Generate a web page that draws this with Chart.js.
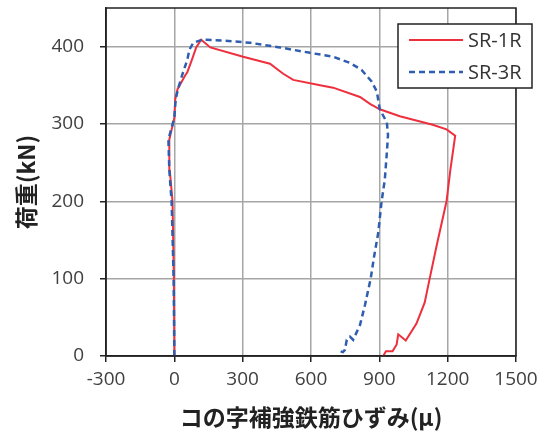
<!DOCTYPE html>
<html>
<head>
<meta charset="utf-8">
<script src="https://cdn.jsdelivr.net/npm/chart.js@4"></script>
<style>
  html, body { margin: 0; padding: 0; background: #fff; }
  #wrap { width: 547px; height: 433px; }
</style>
</head>
<body>
<div id="wrap"><canvas id="chart" width="547" height="433"></canvas></div>
<script>
// SR-1R : strain (μ) / load (kN)
const sr1Strain = [0, -2, -8, -20, -22, -10, 0, 4, 14, 48, 57, 77, 96, 118, 158, 302, 420, 478, 522, 640, 697, 815, 859, 902, 990, 1134, 1195, 1233, 1212, 1195, 1151, 1121, 1099, 1063, 1016, 983, 976, 958, 929, 917];
const sr1Load   = [0, 100, 200, 240, 280, 295, 308, 332, 345, 363, 367, 383, 399, 409, 399, 387, 378, 365, 357, 350, 347, 335, 326, 319, 310, 299, 293, 285, 241, 200, 142, 100, 69, 42, 20, 28, 15, 6, 6, 0];

// SR-3R
const sr3Strain = [0, -3, -12, -22, -26, -15, 0, 6, 16, 34, 57, 66, 83, 121, 215, 333, 464, 596, 697, 771, 822, 866, 889, 902, 933, 938, 934, 924, 910, 895, 876, 862, 837, 815, 785, 771, 757, 749, 740, 730];
const sr3Load   = [0, 100, 200, 240, 280, 292, 308, 332, 345, 363, 383, 396, 405, 409, 408, 405, 399, 392, 387, 379, 370, 355, 342, 319, 302, 286, 267, 228, 200, 159, 127, 100, 66, 40, 21, 25, 21, 8, 5, 6];

const xTicks = [-300, 0, 300, 600, 900, 1200, 1500];
const yTicks = [0, 100, 200, 300, 400];

const seriesNames = ['SR-1R', 'SR-3R'];
const RED = '#ee2f3d';
const BLUE = '#2f5db0';

function toPoints(xs, ys) {
    return xs.map((x, i) => ({ x: x, y: ys[i] }));
}

const tickFont = { family: "'Open Sans', sans-serif", size: 19 };
const titleFont = { family: "'Noto Sans CJK JP', sans-serif", size: 23, weight: 'bold' };

// frame around the plot + legend box inside the top right corner
const framePlugin = {
    id: 'frame',
    afterDraw(chart) {
        const ctx = chart.ctx;
        const a = chart.chartArea;
        ctx.save();
        ctx.strokeStyle = '#222';
        ctx.lineWidth = 1.5;
        ctx.strokeRect(a.left, a.top, a.right - a.left, a.bottom - a.top);

        // legend
        const bx = 398, by = 24, bw = 134, bh = 64;
        ctx.fillStyle = '#fff';
        ctx.fillRect(bx, by, bw, bh);
        ctx.strokeStyle = '#222';
        ctx.lineWidth = 1.5;
        ctx.strokeRect(bx, by, bw, bh);
        chart.data.datasets.forEach((ds, i) => {
            const y = by + 16 + i * 32;
            ctx.beginPath();
            ctx.strokeStyle = ds.borderColor;
            ctx.lineWidth = ds.borderWidth;
            ctx.setLineDash(ds.borderDash || []);
            ctx.moveTo(bx + 11, y);
            ctx.lineTo(bx + 65, y);
            ctx.stroke();
            ctx.setLineDash([]);
            ctx.fillStyle = '#333';
            ctx.font = "20px 'Open Sans', sans-serif";
            ctx.textBaseline = 'middle';
            ctx.fillText(ds.label, bx + 70, y + 1);
        });
        ctx.restore();
    }
};

const chart = new Chart(document.getElementById('chart'), {
    type: 'scatter',
    data: {
        datasets: [{
            label: seriesNames[0],
            data: toPoints(sr1Strain, sr1Load),
            showLine: true,
            borderColor: RED,
            borderWidth: 2,
            pointRadius: 0,
            tension: 0,
            order: 1
        }, {
            label: seriesNames[1],
            data: toPoints(sr3Strain, sr3Load),
            showLine: true,
            borderColor: BLUE,
            borderWidth: 2.5,
            borderDash: [6, 4],
            pointRadius: 0,
            tension: 0,
            order: 0
        }]
    },
    options: {
        responsive: false,
        animation: false,
        layout: { padding: { top: 8, right: 31, left: 0, bottom: 0 } },
        plugins: {
            legend: { display: false },
            tooltip: { enabled: false }
        },
        scales: {
            x: {
                type: 'linear',
                min: xTicks[0],
                max: xTicks[xTicks.length - 1],
                afterBuildTicks: s => { s.ticks = xTicks.map(v => ({ value: v })); },
                afterFit: s => { s.height = 77; },
                grid: { color: '#a6a6a6', lineWidth: 1.5, tickColor: '#222', tickLength: 6 },
                border: { color: '#222', width: 1.5 },
                ticks: { color: '#404040', font: tickFont, padding: 6, maxRotation: 0, callback: v => String(v) },
                title: { display: true, text: 'コの字補強鉄筋ひずみ(μ)', color: '#222', font: titleFont, padding: { top: 0, bottom: 2 } }
            },
            y: {
                min: 0,
                max: 450,
                afterBuildTicks: s => { s.ticks = yTicks.map(v => ({ value: v })); },
                afterFit: s => { s.width = 106; s.paddingTop = 0; s.paddingBottom = 0; },
                grid: { color: '#a6a6a6', lineWidth: 1.5, tickColor: '#222', tickLength: 6 },
                border: { color: '#222', width: 1.5 },
                ticks: { color: '#404040', font: tickFont, padding: 16, callback: v => String(v) },
                title: { display: true, text: '荷重(kN)', color: '#222', font: titleFont, padding: { top: 12, bottom: 0 } }
            }
        }
    },
    plugins: [framePlugin]
});
</script>
</body>
</html>
